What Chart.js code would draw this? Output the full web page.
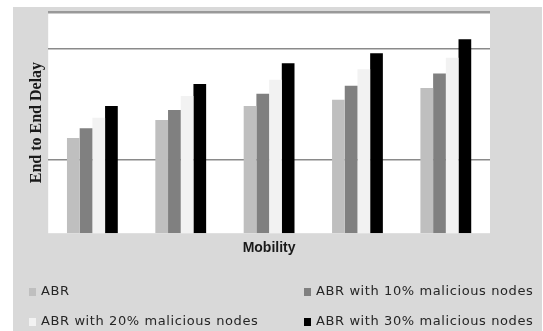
<!DOCTYPE html>
<html>
<head>
<meta charset="utf-8">
<script src="https://cdn.jsdelivr.net/npm/chart.js@4"></script>
<style>
  html, body { margin: 0; padding: 0; background: #ffffff; }
  #wrap { width: 543px; height: 331px; position: relative; }
</style>
</head>
<body>
<div id="wrap"><canvas id="c" width="543" height="331"></canvas></div>
<script>
// Mobility groups (axis carries no tick labels)
const categories = ['1', '2', '3', '4', '5'];

// End to end delay per protocol variant
const abr      = [2.58, 3.07, 3.45, 3.62, 3.94];
const abr10    = [2.85, 3.34, 3.78, 4.00, 4.33];
const abr20    = [3.13, 3.72, 4.16, 4.45, 4.76];
const abr30    = [3.45, 4.05, 4.61, 4.88, 5.26];

const seriesNames = [
  'ABR',
  'ABR with 10% malicious nodes',
  'ABR with 20% malicious nodes',
  'ABR with 30% malicious nodes'
];

// Horizontal rule positions on the delay axis
const gridValues = [2, 5, 6];

const colors = ['#bfbfbf', '#808080', '#f2f2f2', '#000000'];

// Panel background, white plot area and a two-column legend
const panelPlugin = {
  id: 'panel',
  beforeDraw(chart) {
    const ctx = chart.ctx;
    const a = chart.chartArea;
    ctx.save();
    ctx.fillStyle = '#ffffff';
    ctx.fillRect(0, 0, chart.width, chart.height);
    ctx.fillStyle = '#d9d9d9';
    ctx.fillRect(13, 7, chart.width - 14, chart.height - 7);
    ctx.fillStyle = '#ffffff';
    ctx.fillRect(a.left, a.top, a.right - a.left, a.bottom - a.top);
    ctx.restore();
  },
  afterDraw(chart) {
    const ctx = chart.ctx;
    const cols = [29, 304];
    const rows = [292, 322];
    ctx.save();
    ctx.font = '13px "DejaVu Sans"';
    ctx.textBaseline = 'middle';
    if ('letterSpacing' in ctx) ctx.letterSpacing = '0.6px';
    chart.data.datasets.forEach((ds, i) => {
      const x = cols[i % 2];
      const y = rows[Math.floor(i / 2)];
      ctx.fillStyle = ds.backgroundColor;
      ctx.fillRect(x, y - 4, 7, 8);
      ctx.fillStyle = '#262626';
      ctx.fillText(ds.label, x + 12, y);
    });
    ctx.restore();
  }
};

const datasets = [abr, abr10, abr20, abr30].map((vals, i) => ({
  label: seriesNames[i],
  data: vals,
  backgroundColor: colors[i],
  borderWidth: 0,
  barPercentage: 1.0,
  categoryPercentage: 0.575
}));

new Chart(document.getElementById('c'), {
  type: 'bar',
  data: { labels: categories, datasets },
  plugins: [panelPlugin],
  options: {
    responsive: false,
    animation: false,
    devicePixelRatio: 1,
    layout: { padding: { left: 23, top: 12, right: 53, bottom: 72 } },
    plugins: {
      legend: { display: false },
      tooltip: { enabled: false }
    },
    scales: {
      x: {
        grid: { display: false, drawTicks: false },
        border: { display: false },
        ticks: { display: false },
        title: {
          display: true,
          text: 'Mobility',
          color: '#1a1a1a',
          font: { family: '"Liberation Sans", Arial, sans-serif', size: 14, weight: 'bold' },
          padding: { top: 7, bottom: 2 }
        }
      },
      y: {
        min: 0,
        max: 6,
        afterBuildTicks(scale) {
          scale.ticks = gridValues.map(v => ({ value: v }));
        },
        grid: {
          drawTicks: false,
          color: (c) => (c.tick && c.tick.value === 6 ? '#999999' : '#8a8a8a'),
          lineWidth: (c) => (c.tick && c.tick.value === 6 ? 2.5 : 1.5)
        },
        border: { display: false },
        ticks: { display: false },
        title: {
          display: true,
          text: 'End to End Delay',
          color: '#1a1a1a',
          font: { family: '"Liberation Serif", "Times New Roman", serif', size: 16, weight: 'bold' },
          padding: { top: 4, bottom: 2 }
        }
      }
    }
  }
});
</script>
</body>
</html>
